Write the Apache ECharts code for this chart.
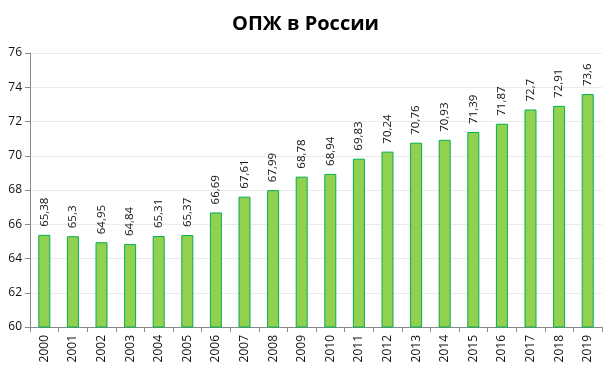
<!DOCTYPE html>
<html><head><meta charset="utf-8">
<script src="https://cdn.jsdelivr.net/npm/echarts@6/dist/echarts.min.js"></script>
<style>html,body{margin:0;padding:0;background:#fff}#c{width:611px;height:370px}</style>
</head><body><div id="c"></div>
<script>
const years = ['2000','2001','2002','2003','2004','2005','2006','2007','2008','2009','2010','2011','2012','2013','2014','2015','2016','2017','2018','2019'];
const values = [65.38,65.3,64.95,64.84,65.31,65.37,66.69,67.61,67.99,68.78,68.94,69.83,70.24,70.76,70.93,71.39,71.87,72.7,72.91,73.6];
const chart = echarts.init(document.getElementById('c'), null, {renderer:'canvas'});
chart.setOption({
  animation:false,
  title:{text:'ОПЖ в России',left:'center',top:9,textStyle:{fontFamily:'Open Sans',fontWeight:'bold',fontSize:20,color:'#000'}},
  grid:{left:30,right:9,top:53,bottom:43},
  xAxis:{type:'category',data:years,
    axisLine:{lineStyle:{color:'#888'}},
    axisTick:{show:true,alignWithLabel:false,length:5,lineStyle:{color:'#888'}},
    axisLabel:{rotate:90,fontFamily:'Open Sans',fontSize:12,color:'#111',margin:8}},
  yAxis:{type:'value',min:60,max:76,interval:2,
    axisLine:{show:true,lineStyle:{color:'#888'}},
    axisTick:{show:true,length:5,lineStyle:{color:'#888'}},
    splitLine:{lineStyle:{color:'#ebebeb'}},
    axisLabel:{fontFamily:'Open Sans',fontSize:12,color:'#111',margin:8}},
  series:[{type:'bar',data:values,barWidth:12,
    itemStyle:{color:'#92d050',borderColor:'#00b050',borderWidth:1},
    label:{show:true,position:'top',rotate:90,align:'left',verticalAlign:'middle',distance:8,
      fontFamily:'Open Sans',fontSize:11.5,color:'#111',
      formatter:p=>String(p.value).replace('.',',')}}]
});
</script></body></html>
